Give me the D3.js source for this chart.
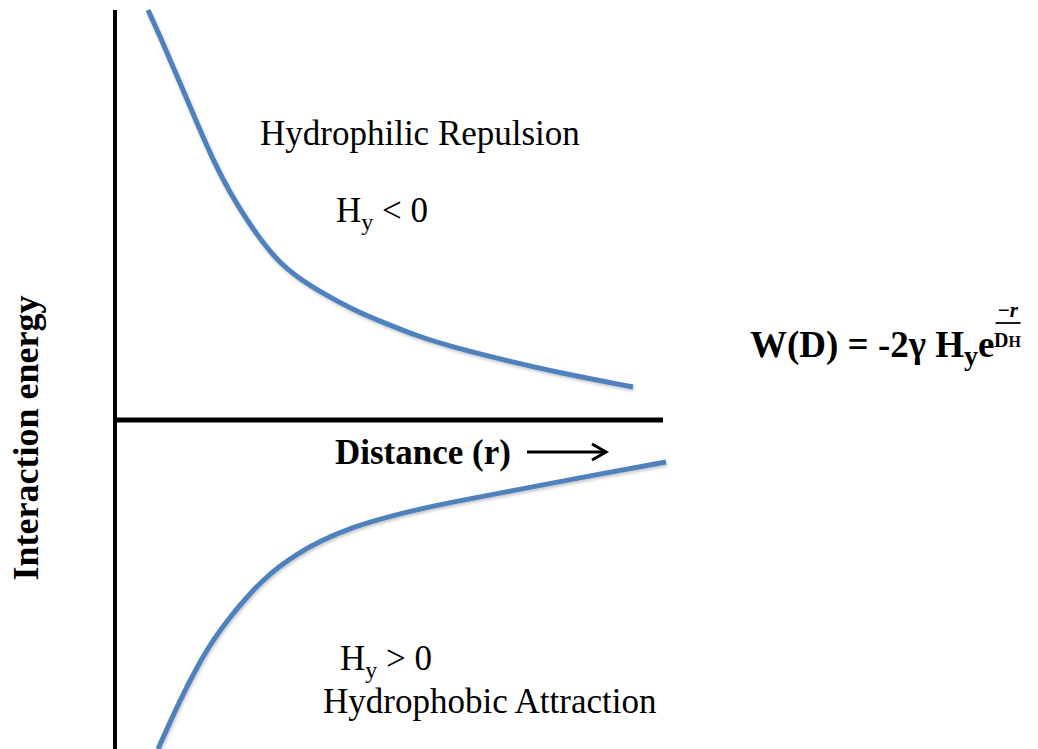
<!DOCTYPE html>
<html>
<head>
<meta charset="utf-8">
<script src="https://cdn.jsdelivr.net/npm/d3@7"></script>
<style>
  html, body { margin: 0; padding: 0; background: #fff; }
  svg { display: block; }
  text { font-family: "Liberation Serif", "Times New Roman", serif; fill: #000; }
</style>
</head>
<body>
<svg id="chart" width="1038" height="749"></svg>
<script>
// Distance (arbitrary units) and interaction energy (arbitrary units)
const repulsionX = [0.33, 0.48, 0.65, 0.82, 0.98, 1.15, 1.32, 1.48, 1.65, 1.82, 2.02, 2.38, 2.72, 3.05, 3.38, 3.85, 4.45, 5.18];
const repulsionY = [4.10, 3.77, 3.37, 2.97, 2.60, 2.27, 2.00, 1.77, 1.57, 1.43, 1.30, 1.10, 0.96, 0.83, 0.73, 0.61, 0.47, 0.33];
const attractionX = [0.43, 0.65, 0.82, 0.98, 1.15, 1.32, 1.48, 1.65, 1.82, 2.05, 2.38, 2.72, 3.05, 3.38, 3.85, 4.85, 5.51];
const attractionY = [-3.29, -2.80, -2.47, -2.20, -1.97, -1.77, -1.60, -1.46, -1.34, -1.21, -1.07, -0.97, -0.89, -0.82, -0.73, -0.54, -0.42];

const labels = {
  repulsion: "Hydrophilic Repulsion",
  attraction: "Hydrophobic Attraction",
  yAxis: "Interaction energy",
  xAxis: "Distance (r)"
};

const svg = d3.select("#chart");

const x = d3.scaleLinear().domain([0, 5.5]).range([115, 665]);
const y = d3.scaleLinear().domain([-3.29, 4.2]).range([749, 0]);

// shadow filter
const defs = svg.append("defs");
const f = defs.append("filter").attr("id", "shadow").attr("x", "-10%").attr("y", "-10%").attr("width", "130%").attr("height", "130%");
f.append("feDropShadow").attr("dx", 1).attr("dy", 2).attr("stdDeviation", 1.5).attr("flood-color", "#000").attr("flood-opacity", 0.22);

// axes
svg.append("line")
  .attr("x1", x(0)).attr("x2", x(0))
  .attr("y1", y(4.1)).attr("y2", 749)
  .attr("stroke", "#000").attr("stroke-width", 4);
svg.append("line")
  .attr("x1", x(0) - 2).attr("x2", x(5.48))
  .attr("y1", y(0)).attr("y2", y(0))
  .attr("stroke", "#000").attr("stroke-width", 5);

const line = d3.line()
  .x(d => x(d[0]))
  .y(d => y(d[1]))
  .curve(d3.curveBasis);

svg.append("path")
  .datum(d3.zip(repulsionX, repulsionY))
  .attr("d", line)
  .attr("fill", "none")
  .attr("stroke", "#4f81bd")
  .attr("stroke-width", 5)
  .attr("filter", "url(#shadow)");

svg.append("path")
  .datum(d3.zip(attractionX, attractionY))
  .attr("d", line)
  .attr("fill", "none")
  .attr("stroke", "#4f81bd")
  .attr("stroke-width", 5)
  .attr("filter", "url(#shadow)");

// y-axis label
svg.append("text")
  .attr("transform", "translate(38,438) rotate(-90)")
  .attr("text-anchor", "middle")
  .attr("font-weight", "bold")
  .attr("font-size", 36)
  .text(labels.yAxis);

// x-axis label + arrow
svg.append("text")
  .attr("x", 335).attr("y", 464)
  .attr("font-weight", "bold")
  .attr("font-size", 35)
  .text(labels.xAxis);
svg.append("line")
  .attr("x1", 527).attr("x2", 604).attr("y1", 452).attr("y2", 452)
  .attr("stroke", "#000").attr("stroke-width", 3);
svg.append("path")
  .attr("d", "M592,444 L606,452 L592,460")
  .attr("fill", "none").attr("stroke", "#000").attr("stroke-width", 3)
  .attr("stroke-linejoin", "miter");

// region labels
svg.append("text").attr("x", 260).attr("y", 145).attr("font-size", 35).text(labels.repulsion);
const t1 = svg.append("text").attr("x", 336).attr("y", 222).attr("font-size", 35);
t1.append("tspan").text("H");
t1.append("tspan").attr("font-size", 24).attr("dy", 8).text("y");
t1.append("tspan").attr("dy", -8).text(" < 0");

const t2 = svg.append("text").attr("x", 340).attr("y", 670).attr("font-size", 35);
t2.append("tspan").text("H");
t2.append("tspan").attr("font-size", 24).attr("dy", 8).text("y");
t2.append("tspan").attr("dy", -8).text(" > 0");
svg.append("text").attr("x", 323).attr("y", 713).attr("font-size", 35).text(labels.attraction);

// formula
const fm = svg.append("text").attr("x", 750).attr("y", 357).attr("font-size", 37).attr("font-weight", "bold");
fm.append("tspan").text("W(D) = -2\u03B3 H");
fm.append("tspan").attr("font-size", 28).attr("dy", 8).text("y");
fm.append("tspan").attr("dy", -8).text("e");
const fmBox = fm.node().getBBox();
const ex = fmBox.x + fmBox.width + 1;
svg.append("text").attr("x", ex + 12).attr("y", 317).attr("font-size", 21)
  .attr("font-weight", "bold").attr("font-style", "italic").attr("text-anchor", "middle").text("\u2212r");
const exBot = svg.append("text").attr("x", ex + 12).attr("y", 347).attr("font-size", 20)
  .attr("font-weight", "bold").attr("text-anchor", "middle");
exBot.append("tspan").text("D");
exBot.append("tspan").attr("font-size", 16).text("H");
svg.append("line").attr("x1", ex).attr("x2", ex + 25).attr("y1", 323).attr("y2", 323)
  .attr("stroke", "#000").attr("stroke-width", 1.8);
</script>
</body>
</html>
